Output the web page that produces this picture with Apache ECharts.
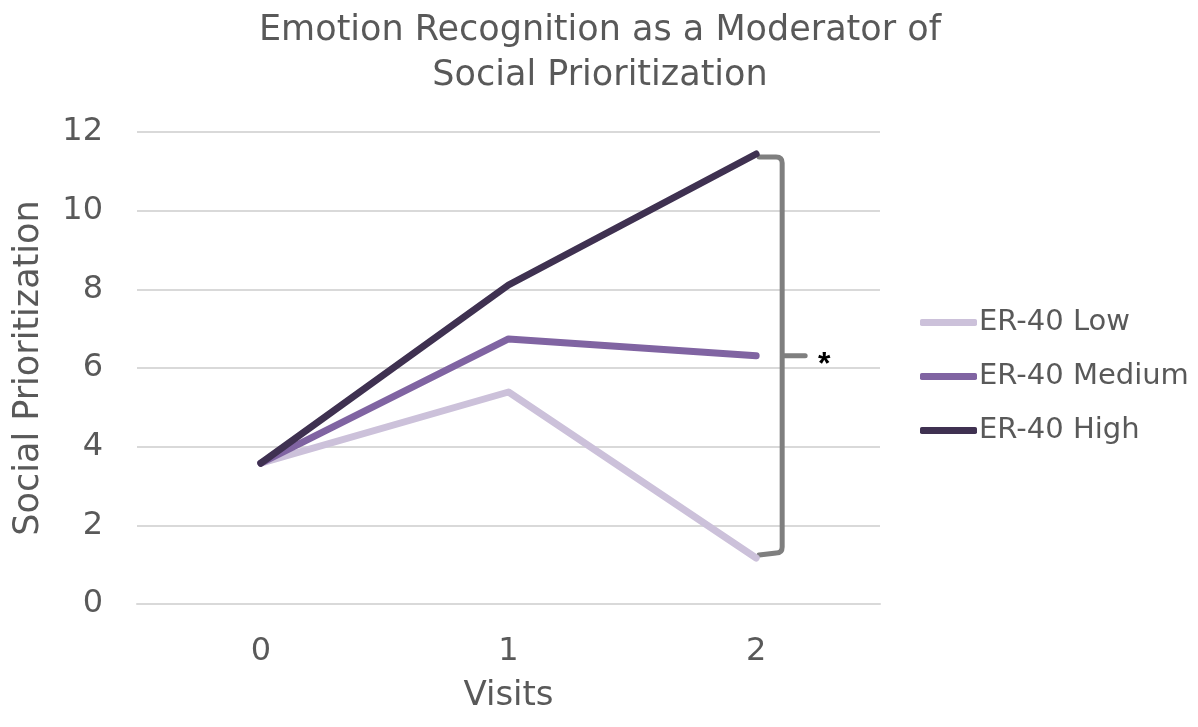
<!DOCTYPE html>
<html>
<head>
<meta charset="utf-8">
<script src="https://cdn.jsdelivr.net/npm/echarts@6/dist/echarts.min.js"></script>
<style>
  html, body { margin: 0; padding: 0; background: #fff; }
  #chart { width: 1198px; height: 727px; }
</style>
</head>
<body>
<div id="chart"></div>
<script>
const visits = ['0', '1', '2'];
const erLow = [3.58, 5.39, 1.17];
const erMedium = [3.58, 6.74, 6.31];
const erHigh = [3.58, 8.11, 11.44];
const yTicks = [0, 2, 4, 6, 8, 10, 12];

const textColor = '#595959';
const font = 'DejaVu Sans, sans-serif';

// bracket drawn next to the last visit, spanning High -> Low
const bracketData = [[2, erHigh[2], erMedium[2], erLow[2]]];

const myChart = echarts.init(document.getElementById('chart'));

const option = {
  animation: false,
  title: {
    text: 'Emotion Recognition as a Moderator of\nSocial Prioritization',
    left: 595,
    textAlign: 'center',
    top: 3,
    textStyle: {
      color: textColor,
      fontFamily: font,
      fontWeight: 'normal',
      fontSize: 35,
      lineHeight: 45
    }
  },
  grid: {
    left: 137,
    right: 318,
    top: 132,
    bottom: 123,
    outerBoundsMode: 'none'
  },
  legend: {
    orient: 'vertical',
    left: 915,
    top: 303,
    icon: 'roundRect',
    itemWidth: 57,
    itemHeight: 7,
    itemGap: 25,
    data: ['ER-40 Low', 'ER-40 Medium', 'ER-40 High'],
    textStyle: {
      color: textColor,
      fontFamily: font,
      fontSize: 29,
      padding: [0, 0, 0, -3]
    }
  },
  xAxis: {
    type: 'category',
    data: visits,
    name: 'Visits',
    nameLocation: 'middle',
    nameGap: 75,
    nameTextStyle: { color: textColor, fontFamily: font, fontSize: 34 },
    axisLine: { show: true, lineStyle: { color: '#D9D9D9', width: 2 } },
    axisTick: { show: false },
    axisLabel: { color: textColor, fontFamily: font, fontSize: 32, margin: 32 }
  },
  yAxis: {
    type: 'value',
    min: yTicks[0],
    max: yTicks[yTicks.length - 1],
    interval: 2,
    name: 'Social Prioritization',
    nameLocation: 'middle',
    nameGap: 91,
    nameTextStyle: { color: textColor, fontFamily: font, fontSize: 35 },
    axisLine: { show: false },
    axisTick: { show: false },
    axisLabel: { color: textColor, fontFamily: font, fontSize: 32, margin: 34 },
    splitLine: { lineStyle: { color: '#D9D9D9', width: 2 } }
  },
  series: [
    {
      name: 'ER-40 Low',
      type: 'line',
      data: erLow,
      symbol: 'none',
      color: '#CCC1DA',
      lineStyle: { width: 7, cap: 'round', join: 'round' }
    },
    {
      name: 'ER-40 Medium',
      type: 'line',
      data: erMedium,
      symbol: 'none',
      color: '#8064A2',
      lineStyle: { width: 7, cap: 'round', join: 'round' }
    },
    {
      name: 'ER-40 High',
      type: 'line',
      data: erHigh,
      symbol: 'none',
      color: '#3F3151',
      lineStyle: { width: 7, cap: 'round', join: 'round' }
    },
    {
      type: 'custom',
      silent: true,
      data: bracketData,
      renderItem: function (params, api) {
        const top = api.coord([api.value(0), api.value(1)]);
        const mid = api.coord([api.value(0), api.value(2)]);
        const bot = api.coord([api.value(0), api.value(3)]);
        const x0 = top[0] + 3;
        const x1 = top[0] + 26;
        const r = 6;
        const yt = top[1] + 3;
        const yb = bot[1] - 5;
        const path =
          'M' + x0 + ' ' + yt +
          ' L' + (x1 - r) + ' ' + yt +
          ' Q' + x1 + ' ' + yt + ' ' + x1 + ' ' + (yt + r) +
          ' L' + x1 + ' ' + (yb - r) +
          ' Q' + x1 + ' ' + yb + ' ' + (x1 - r) + ' ' + yb +
          ' L' + x0 + ' ' + (yb + 2) +
          ' M' + x1 + ' ' + mid[1] +
          ' L' + (x1 + 23) + ' ' + mid[1];
        return {
          type: 'group',
          children: [
            {
              type: 'path',
              shape: { pathData: path },
              style: { fill: null, stroke: '#7F7F7F', lineWidth: 5, lineCap: 'round', lineJoin: 'round' }
            },
            {
              type: 'text',
              style: {
                text: '*',
                x: x1 + 42,
                y: mid[1] + 9,
                fill: '#000',
                font: 'bold 32px Liberation Sans, Arial, sans-serif',
                align: 'center',
                verticalAlign: 'middle'
              }
            }
          ]
        };
      }
    }
  ]
};

myChart.setOption(option);
</script>
</body>
</html>
